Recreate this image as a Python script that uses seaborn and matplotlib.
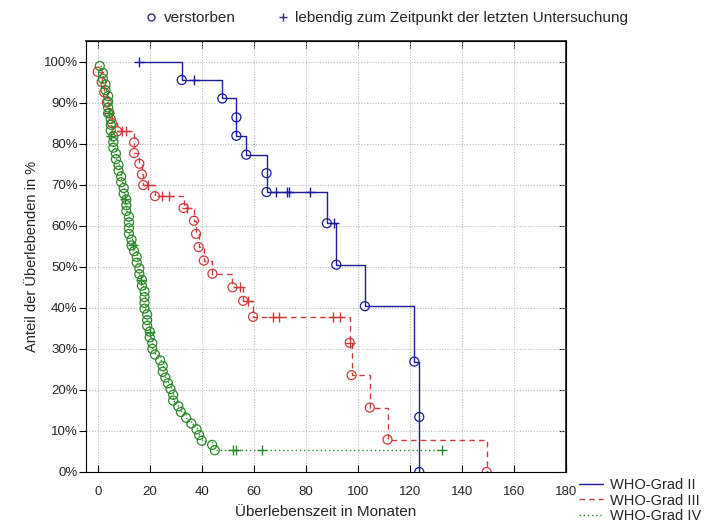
import numpy as np
import pandas as pd
import matplotlib
matplotlib.use("Agg")
import matplotlib.pyplot as plt
from matplotlib.lines import Line2D
import seaborn as sns

# ---- Kaplan-Meier data per WHO grade (months, survival in %) ----
groups = ["WHO-Grad II", "WHO-Grad III", "WHO-Grad IV"]

g2_death_t = [32.3, 47.9, 53.3, 53.3, 57.1, 64.9, 64.9, 88.1, 91.7, 102.7, 121.7, 123.6, 123.6]
g2_death_s = [95.5, 91.0, 86.4, 81.9, 77.3, 72.8, 68.2, 60.6, 50.5, 40.4, 26.9, 13.4, 0.0]
g2_cens_t = [15.9, 37.0, 68.7, 72.6, 73.6, 81.5, 90.8]
g2_cens_s = [100.0, 95.5, 68.2, 68.2, 68.2, 68.2, 60.6]

g3_death_t = [0.0, 1.5, 2.5, 3.5, 4.5, 5.5, 7.5, 14.0, 14.0, 16.0, 17.0, 17.5,
              22.0, 33.0, 37.0, 37.8, 38.8, 40.8, 44.1, 51.8, 55.9, 59.7,
              96.9, 97.6, 104.6, 111.4, 149.5]
g3_death_s = [97.5, 95.0, 92.5, 90.0, 87.5, 85.0, 83.0, 80.3, 77.7, 75.1, 72.5, 69.9,
              67.2, 64.3, 61.2, 58.0, 54.8, 51.5, 48.3, 45.0, 41.7, 37.8,
              31.5, 23.6, 15.7, 7.9, 0.0]
g3_cens_t = [9.5, 11.0, 19.3, 24.8, 27.4, 34.2, 54.6, 57.8, 67.4, 69.8, 90.5, 93.0, 96.9]
g3_cens_s = [83.0, 83.0, 69.9, 67.2, 67.2, 64.3, 45.0, 41.7, 37.8, 37.8, 37.8, 37.8, 31.5]

g4_death_t = [0.8, 2, 2, 3, 3, 4, 4, 4, 4, 5, 5, 5, 6, 6, 6, 7, 7, 8, 8, 9, 9, 10, 10,
              11, 11, 11, 12, 12, 12, 12, 13, 13, 14, 15, 15, 16, 16, 17, 17, 18, 18,
              18, 18, 19, 19, 19, 20, 20, 21, 21, 22, 24, 25, 25, 26, 27, 28, 29, 29,
              31, 32, 34, 36, 38, 39, 40, 44, 45]
g4_death_s = [98.9, 97.2, 95.8, 94.4, 93.0, 91.6, 90.2, 88.8, 87.4, 86.0, 84.6, 83.2,
              81.8, 80.4, 79.0, 77.6, 76.2, 74.8, 73.4, 72.0, 70.6, 69.2, 67.8, 66.4,
              65.0, 63.6, 62.2, 60.8, 59.4, 58.0, 56.6, 55.2, 53.8, 52.4, 51.0, 49.6,
              48.2, 46.8, 45.4, 44.0, 42.6, 41.2, 39.8, 38.4, 37.0, 35.6, 34.2, 32.8,
              31.4, 30.0, 28.6, 27.2, 25.8, 24.4, 23.0, 21.6, 20.2, 18.8, 17.4, 16.0,
              14.6, 13.2, 11.8, 10.4, 9.0, 7.6, 6.6, 5.3]
g4_cens_t = [4.2, 5.2, 10.4, 13.6, 16.8, 20.0, 52.0, 53.0, 63.0, 132.5]
g4_cens_s = [87.4, 81.8, 66.4, 55.2, 46.8, 34.2, 5.3, 5.3, 5.3, 5.3]

x_ticks = list(range(0, 181, 20))
y_ticks = list(range(0, 101, 10))
y_tick_labels = [f"{v}%" for v in y_ticks]

colors = ["#1c1c9c", "#d03c3c", "#2a8a2a"]
line_styles = ["-", (0, (4, 3)), (0, (1, 2))]

series = [
    (g2_death_t, g2_death_s, g2_cens_t, g2_cens_s),
    (g3_death_t, g3_death_s, g3_cens_t, g3_cens_s),
    (g4_death_t, g4_death_s, g4_cens_t, g4_cens_s),
]

sns.set_theme(style="white")
plt.rcParams["font.family"] = ["Liberation Sans", "DejaVu Sans"]
plt.rcParams["font.size"] = 10

fig = plt.figure(figsize=(7.05, 5.23), dpi=100)
ax = fig.add_axes([86 / 705, 1 - 472 / 523, 480 / 705, 431 / 523])

handles = []
for name, (dt, ds, ct, cs), col, ls in zip(groups, series, colors, line_styles):
    events = pd.DataFrame({
        "time": list(dt) + list(ct),
        "surv": list(ds) + list(cs),
    })
    events["neg"] = -events["surv"]
    events = events.sort_values(["time", "neg"], kind="stable").reset_index(drop=True)
    sns.lineplot(data=events, x="time", y="surv", sort=False, estimator=None,
                 drawstyle="steps-post", color=col, linestyle=ls, linewidth=1.0,
                 ax=ax, legend=False)
    sns.scatterplot(x=dt, y=ds, marker="o", s=42, facecolors="none",
                    edgecolor=col, linewidth=0.9, ax=ax, legend=False, zorder=3)
    sns.scatterplot(x=ct, y=cs, marker="+", s=50, color=col,
                    linewidth=1.0, ax=ax, legend=False, zorder=3)
    handles.append(Line2D([], [], color=col, linestyle=ls, linewidth=1.0, label=name))

ax.set_xlim(-4.5, 180)
ax.set_ylim(0, 105)
ax.set_xticks(x_ticks)
ax.set_xticklabels([str(v) for v in x_ticks])
ax.set_yticks(y_ticks)
ax.set_yticklabels(y_tick_labels)
ax.grid(True, linestyle=(0, (1, 1.5)), color="#bdbdbd", linewidth=0.8)
ax.set_axisbelow(True)
for sp in ax.spines.values():
    sp.set_color("black")
    sp.set_linewidth(0.8)
ax.tick_params(axis="y", direction="out", length=5, width=0.8, color="black",
               labelsize=9.5, pad=1, left=True)
ax.tick_params(axis="x", direction="in", length=5, width=0.8, color="black",
               labelsize=9.5, pad=10, bottom=True)

top = ax.secondary_xaxis("top")
top.set_xticks(x_ticks)
top.tick_params(direction="in", length=5, width=0.8, labeltop=False)
right = ax.secondary_yaxis("right")
right.set_yticks(y_ticks)
right.tick_params(direction="in", length=5, width=0.8, labelright=False)

ax.set_xlabel("Überlebenszeit in Monaten", fontsize=11, labelpad=5)
ax.set_ylabel("Anteil der Überlebenden in %", fontsize=10.5, labelpad=3)

# marker key at the top
key = [
    Line2D([], [], marker="o", linestyle="none", markerfacecolor="none",
           markeredgecolor="#303070", markersize=5, label="verstorben"),
    Line2D([], [], marker="+", linestyle="none", color="#303070",
           markersize=6, label="lebendig zum Zeitpunkt der letzten Untersuchung"),
]
fig.legend(handles=key, loc="center", bbox_to_anchor=(386 / 705, 1 - 18 / 523),
           ncol=2, frameon=False, fontsize=11, handletextpad=0.3,
           columnspacing=2.6, handlelength=1.0)

# line-style key in the lower right corner
fig.legend(handles=handles, loc="lower left", bbox_to_anchor=(569 / 705, -0.02),
           frameon=False, fontsize=10.5, handlelength=1.6, handletextpad=0.5,
           labelspacing=0.12, borderpad=0.2)

fig.savefig("out.png", dpi=100)
